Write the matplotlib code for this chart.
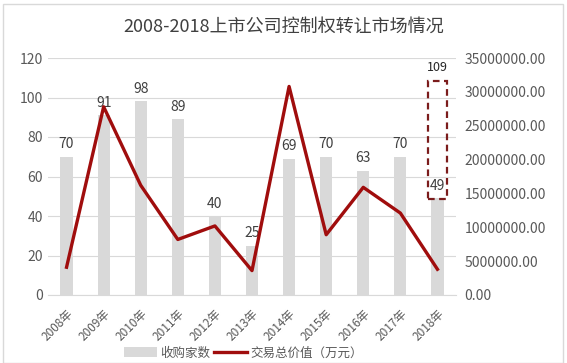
import matplotlib
matplotlib.use("Agg")
import matplotlib.pyplot as plt
from matplotlib.patches import Rectangle, Patch
from matplotlib.lines import Line2D
import numpy as np

plt.rcParams['font.family'] = ['Noto Sans CJK SC', 'DejaVu Sans']

years = ["2008年", "2009年", "2010年", "2011年", "2012年", "2013年",
         "2014年", "2015年", "2016年", "2017年", "2018年"]
deals = [70, 91, 98, 89, 40, 25, 69, 70, 63, 70, 49]
value = [4.1e6, 27.8e6, 16.2e6, 8.2e6, 10.2e6, 3.6e6,
         30.8e6, 8.9e6, 15.9e6, 12.1e6, 3.8e6]
note_2018 = "109"

title = "2008-2018上市公司控制权转让市场情况"
bar_name = "收购家数"
line_name = "交易总价值（万元）"

bar_color = "#D9D9D9"
line_color = "#A00D0D"
txt = "#595959"

fig = plt.figure(figsize=(5.67, 3.63), dpi=100)
ax = fig.add_axes([48/567, (363-295)/363, (456-48)/567, (295-58)/363])
ax2 = ax.twinx()

x = np.arange(len(years))
bars = ax.bar(x, deals, width=0.33, color=bar_color, zorder=2)
for xi, v in zip(x, deals):
    ax.annotate(str(v), (xi, v), xytext=(0, 9), textcoords="offset points",
                ha="center", va="center", fontsize=10, color="#404040", zorder=5)

ax.set_ylim(0, 120)
ax.set_yticks(range(0, 121, 20))
ax.set_xlim(-0.5, len(years) - 0.5)
ax.grid(axis="y", color="#D9D9D9", linewidth=0.8, zorder=0)
ax.set_axisbelow(True)
for s in ["top", "left", "right"]:
    ax.spines[s].set_visible(False)
ax.spines["bottom"].set_color("#D9D9D9")
ax.tick_params(axis="both", length=0, colors=txt, labelsize=10)
ax.set_xticks(x)
ax.set_xticklabels(years, rotation=45, ha="right", rotation_mode="anchor", fontsize=8.5)
ax.tick_params(axis="x", pad=9)

ax2.plot(x, value, color=line_color, linewidth=2.4, zorder=3)
ax2.set_ylim(0, 35e6)
ax2.set_yticks(np.arange(0, 35e6 + 1, 5e6))
ax2.set_yticklabels([f"{v:.2f}" for v in np.arange(0, 35e6 + 1, 5e6)])
for s in ["top", "left", "right", "bottom"]:
    ax2.spines[s].set_visible(False)
ax2.tick_params(axis="y", length=0, colors=txt, labelsize=10, pad=6)

# dashed highlight around 2018
ax.add_patch(Rectangle((10 - 0.26, 48.5), 0.52, 60, fill=False,
                       edgecolor="#7B1C1C", linestyle=(0, (3, 2)), linewidth=1.6, zorder=6))
ax.text(10, 115, note_2018, ha="center", va="center", fontsize=9, color="#262626", zorder=6)

fig.text(0.5, 1 - 27/363, title, ha="center", va="center", fontsize=13, color="#404040")

handles = [Patch(facecolor=bar_color, edgecolor="none"),
           Line2D([0], [0], color=line_color, linewidth=2.4)]
fig.legend(handles, [bar_name, line_name], loc="center", bbox_to_anchor=(0.43, 10/363 + 0.0),
           ncol=2, frameon=False, fontsize=9, labelcolor=txt, handlelength=2.6,
           handletextpad=0.3, columnspacing=0.3, handleheight=0.8)

fig.add_artist(Rectangle((3/567, 0.0), 560/567, 1 - 4/363, transform=fig.transFigure,
                         fill=False, edgecolor="#D9D9D9", linewidth=1))

fig.savefig("out.png", dpi=100)
